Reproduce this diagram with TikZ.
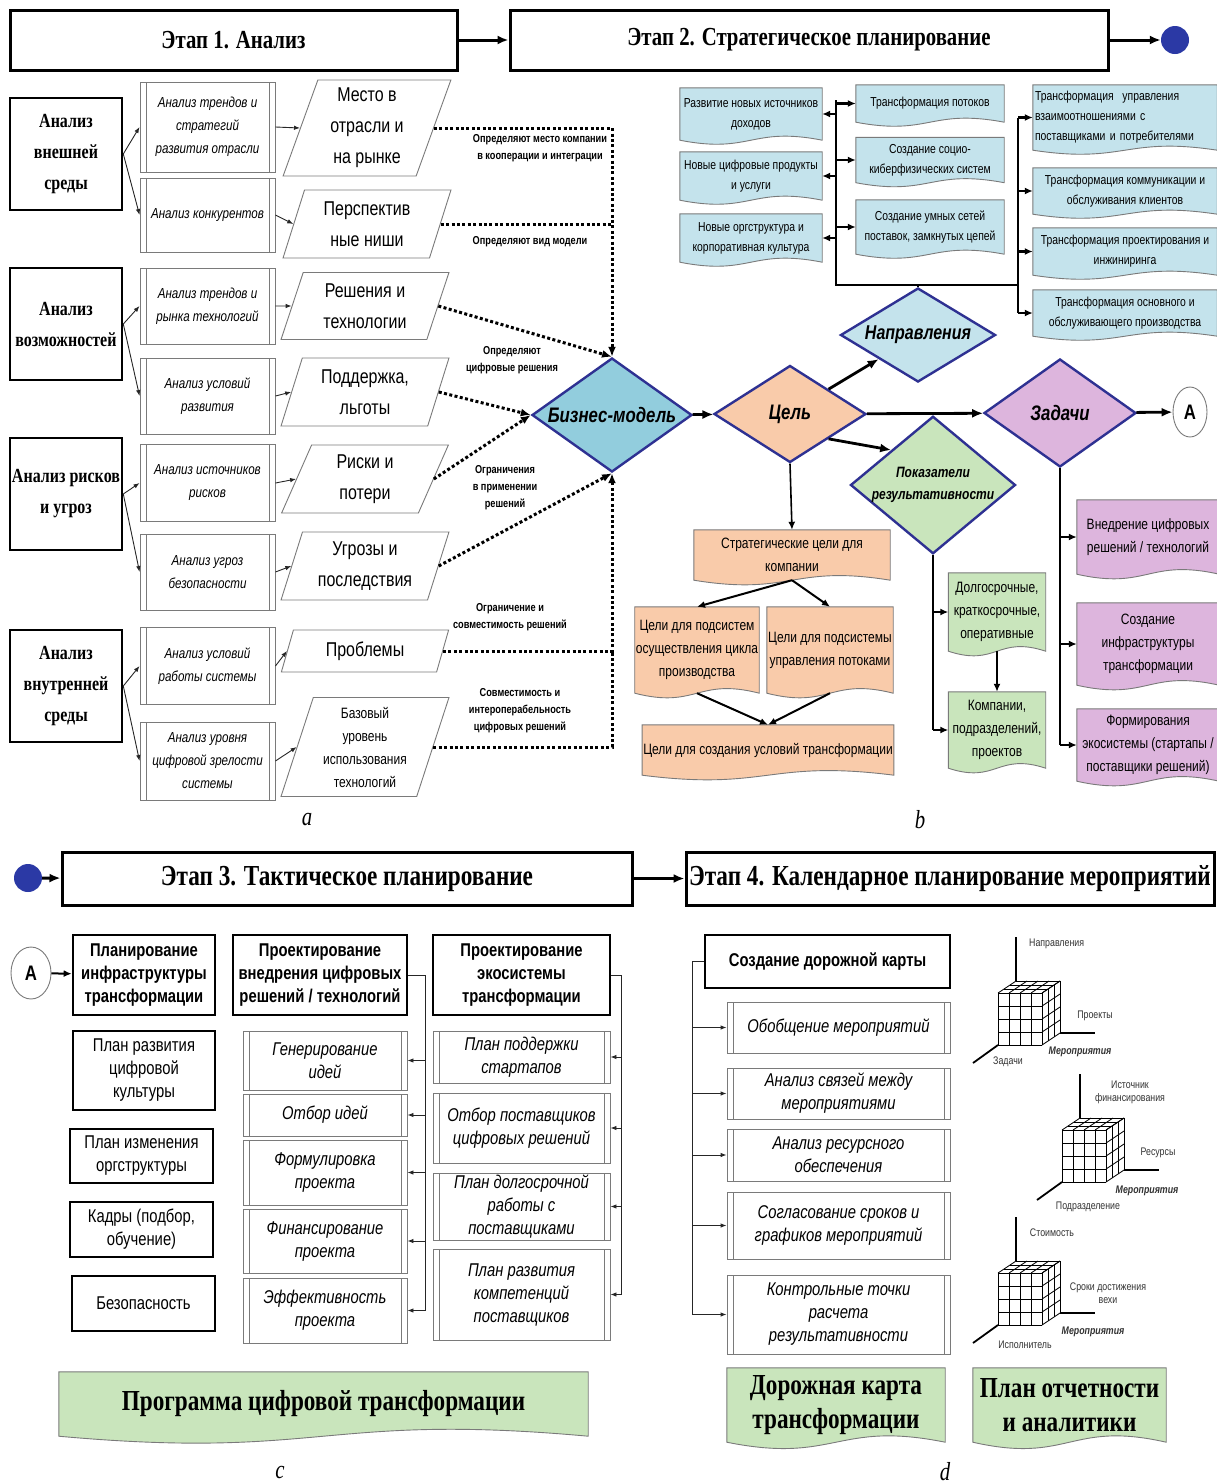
\documentclass[tikz,border=0pt]{standalone}
\usepackage{fontspec}
\setmainfont{Liberation Sans}
\newfontfamily\nar[FakeStretch=0.8]{Liberation Sans}
\newfontfamily\tms[FakeStretch=0.8]{Liberation Serif}
\usetikzlibrary{arrows.meta,positioning,calc,shapes.geometric,backgrounds}

\definecolor{navy}{HTML}{2E3192}
\definecolor{dot}{HTML}{2B39A5}
\definecolor{skyb}{HTML}{C4E3EC}
\definecolor{bmod}{HTML}{92CDDD}
\definecolor{peach}{HTML}{F9CBAA}
\definecolor{mint}{HTML}{C9E5BC}
\definecolor{lilac}{HTML}{DDB5DD}
\definecolor{frame}{HTML}{7A7A7A}

\newcommand{\fs}[2]{\fontsize{#1}{#2}\selectfont}

% box with a wavy lower edge, drawn behind node #1
\newcommand{\docback}[3]{%
  \begin{pgfonlayer}{background}
    \draw[docline, fill=#2] (#1.north west) -- (#1.north east) -- (#1.south east)
      .. controls ($(#1.south)+(0,-#3)$) and ($(#1.south)+(0,#3)$) .. (#1.south west) -- cycle;
  \end{pgfonlayer}}

% 4x4x3 grid cube with its three axes, front lower left corner at (#1,#2)
\newcommand{\gridcube}[2]{%
  \begin{scope}[shift={(#1,#2)}]
    \foreach \i in {0,...,4} {
      \draw[cubeline] (\i*11,0) -- (\i*11,-52);
      \draw[cubeline] (0,-\i*13) -- (44,-\i*13);
      \draw[cubeline] (\i*11,-52) -- ++(18,-12);
      \draw[cubeline] (44,-\i*13) -- ++(18,-12);
    }
    \foreach \j in {1,...,3} {
      \draw[cubeline] (\j*6,-52-\j*4) -- ++(44,0);
      \draw[cubeline] (44+\j*6,-\j*4) -- ++(0,-52);
    }
    \draw[axisline] (18,-64) -- (18,-108);
    \draw[axisline] (62,-12) -- (97,-12);
    \draw[axisline] (0,0) -- (-25,18);
  \end{scope}}

\begin{document}
\begin{tikzpicture}[x=1pt, y=-1pt,
  title/.style={draw, line width=3pt, inner sep=0, font=\tms\bfseries\fs{26}{30}},
  bigarr/.style={-{Latex[length=11pt,width=9pt]}, line width=3pt},
  lbox/.style={draw, line width=2.6pt, minimum width=112, minimum height=112, inner sep=1, align=center, font=\tms\bfseries\fs{20}{31}},
  dbl/.style={path picture={
      \draw[frame, line width=0.9pt] ([xshift=6pt]path picture bounding box.north west) -- ([xshift=6pt]path picture bounding box.south west)
        ([xshift=-6pt]path picture bounding box.north east) -- ([xshift=-6pt]path picture bounding box.south east);}},
  mbox/.style={dbl, draw=frame, line width=0.9pt, minimum width=135, inner sep=1, align=center, font=\nar\itshape\fs{14.5}{23}},
  pbox/.style={trapezium, trapezium left angle=72, trapezium right angle=108, trapezium stretches=true, draw=frame, line width=0.9pt, minimum width=168, inner sep=1, align=center, font=\nar\fs{20}{31}},
  tarr/.style={-{Latex[length=6pt,width=4.5pt]}, line width=0.9pt, black!85},
  tbus/.style={line width=0.9pt, black!85},
  dotl/.style={line width=3pt, dash pattern=on 3pt off 2.4pt},
  dott/.style={dotl, -{Latex[length=10pt,width=8pt]}},
  note/.style={font=\nar\bfseries\fs{11.5}{17}, align=center},
  doc/.style={inner sep=1, align=center, font=\nar\fs{13}{20}},
  docline/.style={draw=frame, line width=0.9pt},
  bus/.style={line width=2.4pt},
  barr/.style={-{Latex[length=8pt,width=7pt]}, line width=2.4pt},
  dia/.style={diamond, aspect=1.4, draw=navy, line width=2.4pt, inner sep=0, align=center, font=\nar\bfseries\itshape\fs{21}{24}},
  arrk/.style={-{Latex[length=11pt,width=9pt]}, line width=2.8pt},
  low/.style={inner sep=1, align=center, font=\nar\fs{15}{23}},
  hbox/.style={draw, line width=2.6pt, inner sep=1, align=center, font=\nar\bfseries\fs{18.5}{23}},
  cbox/.style={draw, line width=2pt, inner sep=1, align=center, font=\nar\fs{18.5}{23}},
  ibox/.style={dbl, draw=frame, line width=0.9pt, inner sep=1, align=center, font=\nar\itshape\fs{18.5}{23}},
  banner/.style={inner sep=1, align=center, font=\tms\bfseries\fs{29}{34}},
  cubeline/.style={line width=0.8pt},
  axisline/.style={line width=1.8pt},
  cubelab/.style={font=\nar\fs{11}{13}, text=black!80, align=center, inner sep=1},
  cubemain/.style={cubelab, font=\nar\bfseries\itshape\fs{11}{13}},
  sublab/.style={font=\tms\itshape\fs{26}{26}}
]
\useasboundingbox (0,0) rectangle (1217,1484);
\begin{pgfonlayer}{background}
  \fill[white] (0,0) rectangle (1217,1484);
\end{pgfonlayer}

% Stage headers
\node[title, minimum width=447, minimum height=60] (t1) at (233.5,40) {Этап 1. Анализ};
\node[title, minimum width=598, minimum height=60] (t2) at (809,40) {Этап 2. Стратегическое планирование};
\node[circle, fill=dot, minimum size=28, inner sep=0] (d1) at (1175,40) {};
\draw[bigarr] (t1) -- (t2);
\draw[bigarr] (t2) -- (d1);

% ---------- a: analysis ----------
\node[lbox] (l1) at (66,154) {Анализ\\внешней\\среды};
\node[lbox] (l2) at (66,324) {Анализ\\возможностей};
\node[lbox] (l3) at (66,494) {Анализ рисков\\и угроз};
\node[lbox] (l4) at (66,686) {Анализ\\внутренней\\среды};

\node[mbox, minimum height=90] (m1) at (207.5,127) {Анализ трендов и\\стратегий\\развития отрасли};
\node[mbox, minimum height=74] (m2) at (207.5,215) {Анализ конкурентов};
\node[mbox, minimum height=76] (m3) at (207.5,306) {Анализ трендов и\\рынка технологий};
\node[mbox, minimum height=76] (m4) at (207.5,396) {Анализ условий\\развития};
\node[mbox, minimum height=77] (m5) at (207.5,483) {Анализ источников\\рисков};
\node[mbox, minimum height=76] (m6) at (207.5,572) {Анализ угроз\\безопасности};
\node[mbox, minimum height=77] (m7) at (207.5,666) {Анализ условий\\работы системы};
\node[mbox, minimum height=78] (m8) at (207.5,761) {Анализ уровня\\цифровой зрелости\\системы};

\node[pbox, minimum height=96] (p1) at (367,128) {Место в\\отрасли и\\на рынке};
\node[pbox, minimum height=68] (p2) at (367,224) {Перспектив\\ные ниши};
\node[pbox, minimum height=67] (p3) at (365,306) {Решения и\\технологии};
\node[pbox, minimum height=68] (p4) at (365,392) {Поддержка,\\льготы};
\node[pbox, minimum height=68] (p5) at (365,479) {Риски и\\потери};
\node[pbox, minimum height=68] (p6) at (365,566) {Угрозы и\\последствия};
\node[pbox, minimum height=42] (p7) at (365,651) {Проблемы};
\node[pbox, minimum height=99, font=\nar\fs{15}{23}] (p8) at (365,747) {Базовый\\уровень\\использования\\технологий};

\foreach \l/\a/\b in {l1/m1/m2, l2/m3/m4, l3/m5/m6, l4/m7/m8} {
  \draw[tarr] (\l.east) -- (\a.west);
  \draw[tarr] (\l.east) -- (\b.west);
}
\foreach \i in {1,...,8}
  \draw[tarr] (m\i.east) -- (p\i.west);

\node[dia, fill=bmod, minimum width=160, minimum height=114] (bm) at (612,415) {Бизнес-модель};

% dotted links into the business model
\draw[dott] (p1.east) -| (bm.north);
\draw[dotl] (p2.east) -- (p2.east -| bm.north);
\draw[dott] (p3.east) -- (bm.north);
\draw[dott] (p4.east) -- (bm.west);
\draw[dott] (p5.east) -- (bm.west);
\draw[dott] (p6.east) -- (bm.south);
\draw[dott] (p7.east) -| (bm.south);
\draw[dotl] (p8.east) -| (p7.east -| bm.south);

\node[note] (n1) at (540,148) {Определяют место компании\\в кооперации и интеграции};
\node[note] (n2) at (530,242) {Определяют вид модели};
\node[note] (n3) at (512,360) {Определяют\\цифровые решения};
\node[note] (n4) at (505,488) {Ограничения\\в применении\\решений};
\node[note] (n5) at (510,617) {Ограничение и\\совместимость решений};
\node[note] (n6) at (520,711) {Совместимость и\\интероперабельность\\цифровых решений};

\node[sublab] (la) at (307,820) {a};

% ---------- b: strategic planning ----------
\node[doc, minimum width=142, minimum height=52] (b1) at (751,114) {Развитие новых источников\\доходов};
\node[doc, minimum width=142, minimum height=48] (b2) at (751,176) {Новые цифровые продукты\\и услуги};
\node[doc, minimum width=142, minimum height=48] (b3) at (751,238) {Новые оргструктура и\\корпоративная культура};
\node[doc, minimum width=148, minimum height=37] (b4) at (930,103.5) {Трансформация потоков};
\node[doc, minimum width=148, minimum height=45] (b5) at (930,160) {Создание социо-\\киберфизических систем};
\node[doc, minimum width=148, minimum height=54] (b6) at (930,227) {Создание умных сетей\\поставок, замкнутых цепей};
\node[doc, minimum width=184, minimum height=65, align=left, text width=180] (b7) at (1125,117.5) {Трансформация\ \ управления\\взаимоотношениями с\\поставщиками и потребителями};
\node[doc, minimum width=184, minimum height=46] (b8) at (1125,191) {Трансформация коммуникации и\\обслуживания клиентов};
\node[doc, minimum width=184, minimum height=47] (b9) at (1125,251.5) {Трансформация проектирования и\\инжиниринга};
\node[doc, minimum width=184, minimum height=46] (b10) at (1125,313) {Трансформация основного и\\обслуживающего производства};
\foreach \n in {b1,b2,b3,b4,b5,b6,b7,b8,b9,b10} {
  \docback{\n}{skyb}{14}
}

\coordinate (bl) at (836,100);
\coordinate (bc) at (836,285);
\coordinate (br) at (1018,285);
\coordinate (brt) at (1018,117.5);
\coordinate (brb) at (1018,313);
\draw[bus] (bl) -- (bc) -- (br);
\draw[bus] (brt) -- (brb);
\foreach \n in {b1,b2,b3}
  \draw[barr] (\n.east -| bl) -- (\n.east);
\foreach \n in {b4,b5,b6}
  \draw[barr] (\n.west -| bl) -- (\n.west);
\foreach \n in {b7,b8,b9,b10}
  \draw[barr] (\n.west -| br) -- (\n.west);

\node[dia, fill=peach, minimum width=152, minimum height=97] (goal) at (790,414) {Цель};
\node[dia, fill=skyb, aspect=1.6, minimum width=155, minimum height=94, font=\nar\bfseries\itshape\fs{20}{24}] (napr) at (918,335) {Направления};
\node[dia, fill=mint, aspect=1.2, minimum width=153, minimum height=124, font=\nar\bfseries\itshape\fs{15}{22}] (pok) at (933,485) {Показатели\\результативности};
\node[dia, fill=lilac, minimum width=152, minimum height=108] (task) at (1060,413) {Задачи};
\node[ellipse, draw=frame, line width=0.9pt, minimum width=34, minimum height=50, inner sep=0, font=\nar\bfseries\fs{21}{24}] (ra) at (1190,412) {A};

\draw[bus] (napr.north) -- (napr.north |- bc);
\draw[arrk] (bm) -- (goal);
\draw[arrk] (goal.north east) -- (napr.south west);
\draw[arrk] (goal.south east) -- (pok.north west);
\draw[arrk] (goal) -- (task);
\draw[arrk] (task) -- (ra);

% goals
\node[low, minimum width=196, minimum height=50] (o1) at (792,555) {Стратегические цели для\\компании};
\node[low, minimum width=124, minimum height=86] (o2) at (697,650) {Цели для подсистем\\осуществления цикла\\производства};
\node[low, minimum width=126, minimum height=86] (o3) at (830,650) {Цели для подсистемы\\управления потоками};
\node[low, minimum width=251, minimum height=50] (o4) at (768,750) {Цели для создания условий трансформации};
\foreach \n in {o1,o2,o3,o4} {
  \docback{\n}{peach}{16}
}
\draw[barr, line width=1.6pt] (goal.south) -- (o1.north);
\draw[barr, line width=2pt] (o1.south) -- (o2.north);
\draw[barr, line width=2pt] (o1.south) -- (o3.north);
\draw[barr, line width=2pt] (o2.south) -- (o4.north);
\draw[barr, line width=2pt] (o3.south) -- (o4.north);

% indicators
\node[low, minimum width=97, minimum height=78] (g1) at (997,612) {Долгосрочные,\\краткосрочные,\\оперативные};
\node[low, minimum width=97, minimum height=76] (g2) at (997,730) {Компании,\\подразделений,\\проектов};
\foreach \n in {g1,g2} {
  \docback{\n}{mint}{16}
}
\draw[bus, line width=2pt] (pok.south) -- (pok.south |- g2.west);
\foreach \n in {g1,g2}
  \draw[barr, line width=2pt] (pok.south |- \n.west) -- (\n.west);
\draw[barr, line width=2pt] (g1.south) -- (g2.north);

% tasks
\node[low, minimum width=142, minimum height=74] (q1) at (1148,537) {Внедрение цифровых\\решений / технологий};
\node[low, minimum width=142, minimum height=82] (q2) at (1148,644) {Создание\\инфраструктуры\\трансформации};
\node[low, minimum width=142, minimum height=72] (q3) at (1148,745) {Формирования\\экосистемы (стартапы /\\поставщики решений)};
\foreach \n in {q1,q2,q3} {
  \docback{\n}{lilac}{16}
}
\draw[bus, line width=2pt] (task.south) -- (task.south |- q3.west);
\foreach \n in {q1,q2,q3}
  \draw[barr, line width=2pt] (task.south |- \n.west) -- (\n.west);

\node[sublab] (lb) at (920,820) {b};

% ---------- c: tactical planning ----------
\node[circle, fill=dot, minimum size=28, inner sep=0] (d2) at (28,878) {};
\node[title, font=\tms\bfseries\fs{29}{32}, minimum width=570, minimum height=53] (t3) at (347,878.5) {Этап 3. Тактическое планирование};
\node[title, font=\tms\bfseries\fs{29}{32}, minimum width=528, minimum height=53] (t4) at (950,878.5) {Этап 4. Календарное планирование мероприятий};
\draw[bigarr] (d2) -- (t3);
\draw[bigarr] (t3) -- (t4);

\node[ellipse, draw=frame, line width=0.9pt, minimum width=40, minimum height=52, inner sep=0, font=\nar\bfseries\fs{21}{24}] (rc) at (31,973) {A};
\node[hbox, minimum width=142, minimum height=80] (h1) at (144,975) {Планирование\\инфраструктуры\\трансформации};
\node[hbox, minimum width=174, minimum height=80] (h2) at (320,975) {Проектирование\\внедрения цифровых\\решений / технологий};
\node[hbox, minimum width=177, minimum height=80] (h3) at (521.5,975) {Проектирование\\экосистемы\\трансформации};
\draw[barr, line width=2pt] (rc) -- (h1);

\node[cbox, minimum width=142, minimum height=79] (c1) at (144,1070.5) {План развития\\цифровой\\культуры};
\node[cbox, minimum width=143, minimum height=54] (c2) at (141.5,1156) {План изменения\\оргструктуры};
\node[cbox, minimum width=143, minimum height=55] (c3) at (141.5,1229.5) {Кадры (подбор,\\обучение)};
\node[cbox, minimum width=143, minimum height=55] (c4) at (143.5,1303.5) {Безопасность};

\node[ibox, minimum width=164, minimum height=59] (e1) at (325,1060.5) {Генерирование\\идей};
\node[ibox, minimum width=164, minimum height=42] (e2) at (325,1115) {Отбор идей};
\node[ibox, minimum width=164, minimum height=65] (e3) at (325,1172.5) {Формулировка\\проекта};
\node[ibox, minimum width=164, minimum height=64] (e4) at (325,1241) {Финансирование\\проекта};
\node[ibox, minimum width=164, minimum height=65] (e5) at (325,1310.5) {Эффективность\\проекта};
\coordinate[right=17pt of h2.east] (ce);
\draw[tbus] (h2.east) -- (ce) -- (ce |- e5.east);
\foreach \n in {e1,e2,e3,e4,e5}
  \draw[tarr] (ce |- \n.east) -- (\n.east);

\node[ibox, minimum width=177, minimum height=52] (r1) at (521.5,1057) {План поддержки\\стартапов};
\node[ibox, minimum width=177, minimum height=70] (r2) at (521.5,1128) {Отбор поставщиков\\цифровых решений};
\node[ibox, minimum width=177, minimum height=67] (r3) at (521.5,1206.5) {План долгосрочной\\работы с\\поставщиками};
\node[ibox, minimum width=177, minimum height=91] (r4) at (521.5,1294.5) {План развития\\компетенций\\поставщиков};
\coordinate[right=10pt of h3.east] (cr);
\draw[tbus] (h3.east) -- (cr) -- (cr |- r4.east);
\foreach \n in {r1,r2,r3,r4}
  \draw[tarr] (cr |- \n.east) -- (\n.east);

\node[banner, minimum width=529, minimum height=64] (pg) at (323.5,1404) {Программа цифровой трансформации};
\docback{pg}{mint}{24}
\node[sublab] (lc) at (280,1472) {c};

% ---------- d: scheduling ----------
\node[hbox, minimum width=245, minimum height=53] (hd) at (827.5,961.5) {Создание дорожной карты};
\node[ibox, minimum width=223, minimum height=51] (s1) at (838.5,1027.5) {Обобщение мероприятий};
\node[ibox, minimum width=223, minimum height=51] (s2) at (838.5,1093.5) {Анализ связей между\\мероприятиями};
\node[ibox, minimum width=223, minimum height=52] (s3) at (838.5,1155) {Анализ ресурсного\\обеспечения};
\node[ibox, minimum width=223, minimum height=67] (s4) at (838.5,1225.5) {Согласование сроков и\\графиков мероприятий};
\node[ibox, minimum width=223, minimum height=79] (s5) at (838.5,1314.5) {Контрольные точки\\расчета\\результативности};
\coordinate[left=11pt of hd.west] (cs);
\draw[tbus] (hd.west) -- (cs) -- (cs |- s5.west);
\foreach \n in {s1,s2,s3,s4,s5}
  \draw[tarr] (cs |- \n.west) -- (\n.west);

\node[banner, minimum width=218, minimum height=74] (rm) at (836,1405) {Дорожная карта\\трансформации};
\node[banner, minimum width=193, minimum height=74] (rp) at (1069.5,1405) {План отчетности\\и аналитики};
\docback{rm}{mint}{22}
\docback{rp}{mint}{22}
\node[sublab] (ld) at (945,1472) {d};

% event cubes
\gridcube{998}{1045}
\node[cubelab, anchor=west] (k1) at (1028,944) {Направления};
\node[cubelab] (k2) at (1095,1016) {Проекты};
\node[cubemain] (k3) at (1080,1052) {Мероприятия};
\node[cubelab] (k4) at (1008,1062) {Задачи};

\gridcube{1062}{1182}
\node[cubelab] (k5) at (1130,1092) {Источник\\финансирования};
\node[cubelab] (k6) at (1158,1153) {Ресурсы};
\node[cubemain] (k7) at (1147,1191) {Мероприятия};
\node[cubelab] (k8) at (1088,1207) {Подразделение};

\gridcube{998}{1325}
\node[cubelab] (k9) at (1052,1233) {Стоимость};
\node[cubelab] (k10) at (1108,1293) {Сроки достижения\\вехи};
\node[cubemain] (k11) at (1093,1332) {Мероприятия};
\node[cubelab] (k12) at (1025,1345) {Исполнитель};

\end{tikzpicture}
\end{document}
